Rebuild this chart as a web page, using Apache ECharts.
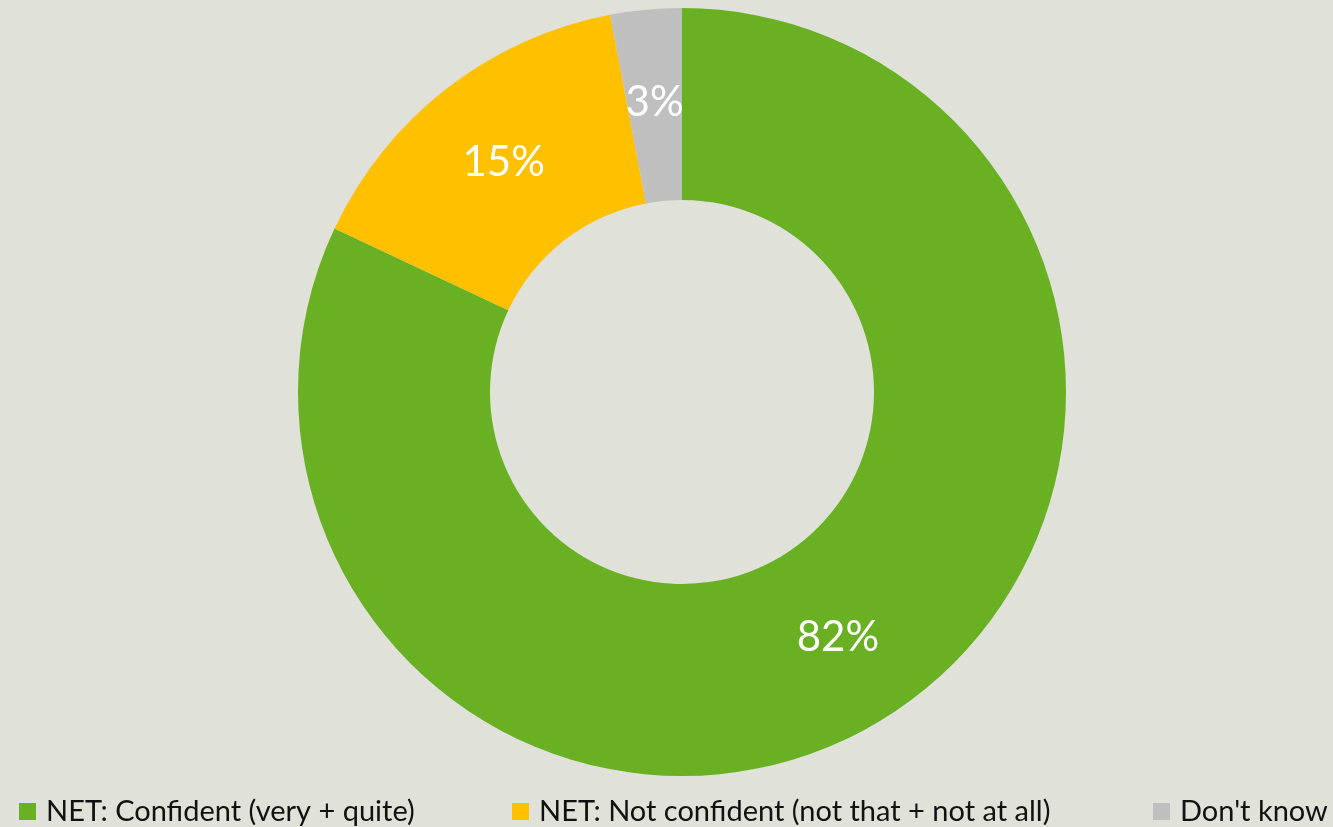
<!DOCTYPE html>
<html>
<head>
<meta charset="utf-8">
<style>
  html, body { margin: 0; padding: 0; background: #E0E1D9; }
  #chart { width: 1333px; height: 827px; }
</style>
<script src="https://cdn.jsdelivr.net/npm/echarts@6/dist/echarts.min.js"></script>
</head>
<body>
<div id="chart"></div>
<script>
// Share of respondents by confidence level
const categories = [
  'NET: Confident (very + quite)',
  'NET: Not confident (not that + not at all)',
  "Don't know"
];
const values = [82, 15, 3];
const colors = ['#6AB023', '#FFC000', '#BFBFBF'];
const legendLefts = [19, 512, 1153];

const chart = echarts.init(document.getElementById('chart'));

const legends = categories.map((name, i) => ({
  data: [name],
  left: legendLefts[i],
  top: 797,
  padding: 0,
  itemWidth: 17,
  itemHeight: 17,
  itemGap: 10,
  icon: 'rect',
  textStyle: {
    fontFamily: 'Lato', fontSize: 29, lineHeight: 29, color: '#111',
    padding: [0, 0, 0, 5]
  },
  selectedMode: false
}));

chart.setOption({
  backgroundColor: '#E0E1D9',
  animation: false,
  color: colors,
  legend: legends,
  series: [{
    type: 'pie',
    center: [682, 392],
    radius: [192, 384],
    startAngle: 90,
    clockwise: true,
    data: categories.map((name, i) => ({ name, value: values[i] })),
    label: {
      show: true,
      position: 'inside',
      formatter: p => p.value + '%',
      color: '#fff',
      fontFamily: 'Lato',
      fontSize: 42
    },
    labelLine: { show: false },
    itemStyle: { borderWidth: 0 },
    emphasis: { disabled: true }
  }]
});
</script>
</body>
</html>
